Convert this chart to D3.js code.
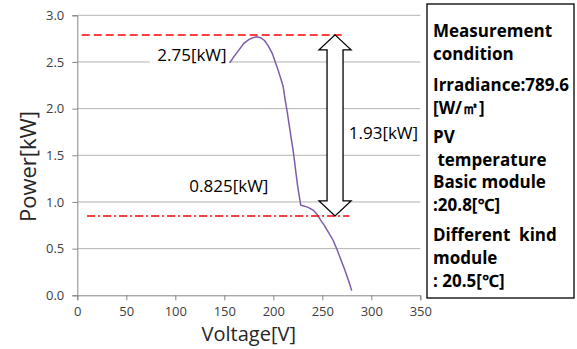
<!DOCTYPE html>
<html>
<head>
<meta charset="utf-8">
<script src="https://cdn.jsdelivr.net/npm/d3@7"></script>
<style>
    body { margin: 0; background: #fff; }
    text { font-family: "Open Sans", "Noto Sans", sans-serif; }
</style>
</head>
<body>
<div id="chart"></div>
<script>
// P-V curve
const voltage = [155.5, 160, 165, 170, 175, 179, 183, 187, 191, 195, 199, 202, 205, 208, 210, 212, 214, 216, 218, 220, 221.5, 223, 225, 227, 228, 232, 236, 241, 245, 248, 252, 256, 261, 265, 269, 273, 277, 280];
const power   = [2.49, 2.56, 2.63, 2.70, 2.74, 2.76, 2.77, 2.76, 2.73, 2.67, 2.59, 2.50, 2.41, 2.31, 2.24, 2.10, 1.98, 1.84, 1.70, 1.57, 1.45, 1.32, 1.16, 1.03, 0.965, 0.955, 0.94, 0.91, 0.86, 0.81, 0.75, 0.68, 0.59, 0.49, 0.38, 0.27, 0.15, 0.05];

const xTicks = [0, 50, 100, 150, 200, 250, 300, 350];
const yTicks = [0, 0.5, 1.0, 1.5, 2.0, 2.5, 3.0];

// reference levels [kW] and their span in volts
const maxLevel = 2.79, maxSpan = [4.5, 271.5];
const minLevel = 0.85, minSpan = [10, 277.5];
const arrowVoltage = 263;

const labelMax = "2.75[kW]";
const labelMin = "0.825[kW]";
const labelDiff = "1.93[kW]";

const boxLines = [
    ["Measurement", 31],
    ["condition", 54],
    ["Irradiance:789.6", 85],
    ["[W/㎡]", 108],
    ["PV", 137],
    [" temperature", 160],
    ["Basic module", 182],
    [":20.8[℃]", 205],
    ["Different  kind", 235],
    ["module", 258],
    [": 20.5[℃]", 281]
];

let width = 577, height = 349;
let margin = {top: 15.3, left: 77.3, plotW: 343, plotH: 280};

let svg = d3.select("#chart").append("svg")
    .attr("width", width)
    .attr("height", height);

let x = d3.scaleLinear().domain([0, 350]).range([margin.left, margin.left + margin.plotW]);
let y = d3.scaleLinear().domain([0, 3]).range([margin.top + margin.plotH, margin.top]);

// gridlines
svg.append("g")
    .selectAll("line")
    .data(yTicks.filter(d => d > 0))
    .enter()
    .append("line")
    .attr("x1", x(0)).attr("x2", x(350))
    .attr("y1", d => y(d)).attr("y2", d => y(d))
    .attr("stroke", "#b3b3b3")
    .attr("stroke-width", 1);

// axes
let xAxis = svg.append("g")
    .attr("transform", "translate(0," + y(0) + ")")
    .call(d3.axisBottom(x).tickValues(xTicks).tickSize(5).tickPadding(6).tickFormat(d3.format("d")));
let yAxis = svg.append("g")
    .attr("transform", "translate(" + x(0) + ",0)")
    .call(d3.axisLeft(y).tickValues(yTicks).tickSize(5).tickPadding(8).tickFormat(d3.format(".1f")));

[xAxis, yAxis].forEach(function (a) {
    a.select(".domain").attr("stroke", "#868686");
    a.selectAll(".tick line").attr("stroke", "#868686");
    a.selectAll(".tick text")
        .attr("fill", "#404040")
        .style("font-size", "13px")
        .style("font-family", "Open Sans, sans-serif");
});

// axis titles
svg.append("text")
    .attr("x", x(175))
    .attr("y", 341)
    .attr("text-anchor", "middle")
    .style("font-size", "20px")
    .attr("fill", "#262626")
    .text("Voltage[V]");

svg.append("text")
    .attr("transform", "translate(36," + y(1.38) + ") rotate(-90)")
    .attr("text-anchor", "middle")
    .style("font-size", "22px")
    .attr("fill", "#262626")
    .text("Power[kW]");

// white background behind the 2.75 value
svg.append("rect")
    .attr("x", x(74)).attr("y", y(2.57) - 11)
    .attr("width", x(155) - x(74)).attr("height", 22)
    .attr("fill", "#fff");

// curve
let line = d3.line()
    .x(d => x(d[0]))
    .y(d => y(d[1]));

svg.append("path")
    .datum(d3.zip(voltage, power))
    .attr("d", line)
    .attr("fill", "none")
    .attr("stroke", "#7b5ea7")
    .attr("stroke-width", 1.5);

// reference lines
svg.append("line")
    .attr("x1", x(maxSpan[0])).attr("x2", x(maxSpan[1]))
    .attr("y1", y(maxLevel)).attr("y2", y(maxLevel))
    .attr("stroke", "#ff0000").attr("stroke-width", 1.5)
    .attr("stroke-dasharray", "8,4");

svg.append("line")
    .attr("x1", x(minSpan[0])).attr("x2", x(minSpan[1]))
    .attr("y1", y(minLevel)).attr("y2", y(minLevel))
    .attr("stroke", "#ff0000").attr("stroke-width", 1.5)
    .attr("stroke-dasharray", "8,3,2,3");

// double-headed block arrow
let ax = x(arrowVoltage), yTop = y(maxLevel), yBot = y(minLevel);
let headH = 15, headW = 16, shaftW = 8;
let arrowPath = d3.path();
arrowPath.moveTo(ax, yTop);
arrowPath.lineTo(ax + headW, yTop + headH);
arrowPath.lineTo(ax + shaftW, yTop + headH);
arrowPath.lineTo(ax + shaftW, yBot - headH);
arrowPath.lineTo(ax + headW, yBot - headH);
arrowPath.lineTo(ax, yBot);
arrowPath.lineTo(ax - headW, yBot - headH);
arrowPath.lineTo(ax - shaftW, yBot - headH);
arrowPath.lineTo(ax - shaftW, yTop + headH);
arrowPath.lineTo(ax - headW, yTop + headH);
arrowPath.closePath();

svg.append("path")
    .attr("d", arrowPath.toString())
    .attr("fill", "#fff")
    .attr("stroke", "#000")
    .attr("stroke-width", 1.3);

// value labels
svg.append("text")
    .attr("x", x(152.4)).attr("y", y(2.57))
    .attr("dy", "0.35em")
    .attr("text-anchor", "end")
    .style("font-size", "17px")
    .text(labelMax);

svg.append("text")
    .attr("x", x(114.3)).attr("y", y(1.17))
    .attr("dy", "0.35em")
    .style("font-size", "17px")
    .text(labelMin);

svg.append("text")
    .attr("x", x(277)).attr("y", y(1.74))
    .attr("dy", "0.35em")
    .style("font-size", "17px")
    .text(labelDiff);

// measurement condition box
svg.append("rect")
    .attr("x", 427).attr("y", 4)
    .attr("width", 147).attr("height", 294)
    .attr("fill", "#fff")
    .attr("stroke", "#000")
    .attr("stroke-width", 1.3);

svg.append("g")
    .selectAll("text")
    .data(boxLines)
    .enter()
    .append("text")
    .attr("x", 433)
    .attr("y", d => d[1])
    .attr("dy", "0.35em")
    .style("font-size", "17px")
    .style("font-weight", "bold")
    .attr("xml:space", "preserve")
    .text(d => d[0]);
</script>
</body>
</html>
